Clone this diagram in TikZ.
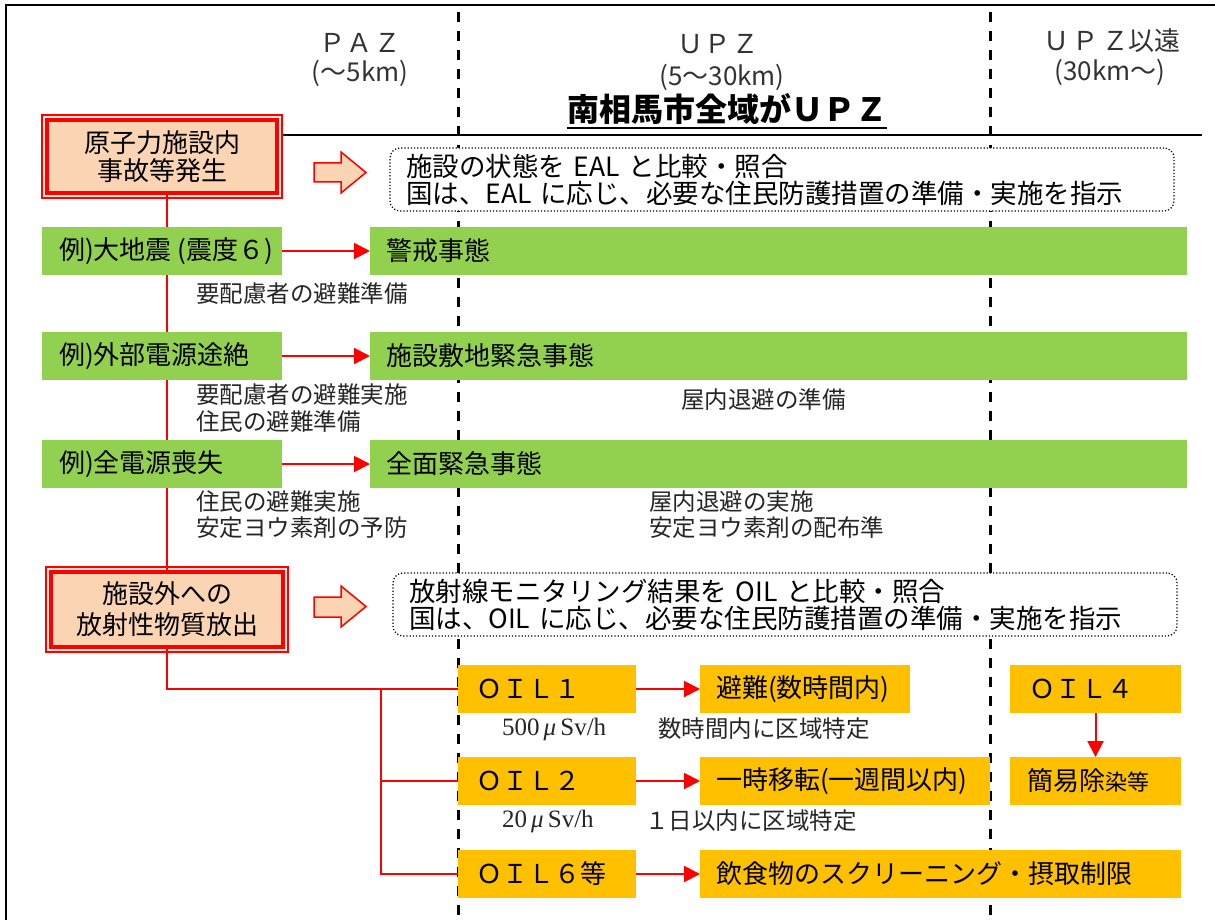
\documentclass[tikz,border=0pt]{standalone}
\usepackage{fontspec}
\setmainfont{Noto Sans CJK JP}
\newfontfamily\tm{Liberation Serif}
\usetikzlibrary{arrows.meta}
\definecolor{peach}{RGB}{251,212,180}
\definecolor{lpeach}{RGB}{253,233,220}
\definecolor{grn}{RGB}{146,208,80}
\definecolor{org}{RGB}{255,192,0}
\pgfdeclarelayer{bg}
\pgfdeclarelayer{paper}
\pgfsetlayers{paper,bg,main}
\newcommand\fsz[1]{\fontsize{#1}{#1}\selectfont}
\newcommand\lbox[3]{\makebox[#1pt][l]{\hspace*{#2pt}#3}}
\begin{document}
\begin{tikzpicture}[x=1pt,y=-1pt,
  every node/.style={inner sep=0pt, outer sep=0pt},
  gbox/.style={fill=grn, minimum height=48pt, anchor=north west, font=\fsz{26}},
  obox/.style={fill=org, minimum height=48pt, anchor=north west, font=\fsz{26}},
  redbox/.style={draw=red, line width=3.5pt, fill=peach, align=center},
  dotbox/.style={draw=black, dotted, line width=1.2pt, rounded corners=10pt, fill=white, anchor=north west, align=left, inner xsep=16pt, minimum height=63pt, font=\fontsize{26.5}{27}\selectfont},
  rline/.style={draw=red, line width=2pt},
  rarrow/.style={rline, -{Triangle[length=16pt,width=16pt]}},
  zone/.style={draw=black, line width=3pt, dash pattern=on 10pt off 9pt},
  lbl/.style={anchor=west, font=\fsz{23.5}, text=black!85},
  hdr/.style={font=\fsz{26}, text=black!80},
  barrow/.style={draw=red, fill=peach, line width=1.5pt, line join=miter}
]
\useasboundingbox (0,0) rectangle (1215,920);
\begin{pgfonlayer}{paper}
\fill[white] (0,0) rectangle (1215,920);
\end{pgfonlayer}

% headers
\node[hdr] (hpaz) at (360,43) {Ｐ\kern2ptＡ\kern2ptＺ};
\node[hdr] (hpazk) at (360,73) {(～5km)};
\node[hdr] (hupz) at (718,44) {Ｕ\kern2ptＰ\kern2ptＺ};
\node[hdr] (hupzk) at (722,77) {(5～30km)};
\node[font=\bfseries\fsz{32}] (city) at (727,109) {南相馬市全域がＵＰＺ};
\node[hdr] (hfar) at (1112,41) {Ｕ\kern4ptＰ\kern4ptＺ以遠};
\node[hdr] (hfark) at (1110,72) {(30km～)};

% red boxes
\node[redbox, minimum width=230pt, minimum height=73pt, font=\fontsize{26}{28}\selectfont] (r1) at (162,156.5) {原子力施設内\\事故等発生};
\node[redbox, minimum width=232pt, minimum height=75pt, font=\fontsize{26}{31}\selectfont] (r2) at (167,609.5) {施設外への\\放射性物質放出};

% dotted boxes
\node[dotbox, minimum width=784pt, text width=752pt] (d1) at (390,148) {施設の状態を EAL と比較・照合\\国は、EAL に応じ、必要な住民防護措置の準備・実施を指示};
\node[dotbox, minimum width=784pt, text width=752pt] (d2) at (393,573) {放射線モニタリング結果を OIL と比較・照合\\国は、OIL に応じ、必要な住民防護措置の準備・実施を指示};

% green boxes
\node[gbox] (g1) at (42,227) {\lbox{240}{17}{例)大地震 (震度６)}};
\node[gbox] (g2) at (42,332) {\lbox{240}{17}{例)外部電源途絶}};
\node[gbox] (g3) at (42,440) {\lbox{240}{17}{例)全電源喪失}};
\node[gbox] (s1) at (370,227) {\lbox{817}{16}{警戒事態}};
\node[gbox] (s2) at (370,332) {\lbox{817}{16}{施設敷地緊急事態}};
\node[gbox] (s3) at (370,440) {\lbox{817}{16}{全面緊急事態}};

% orange boxes
\node[obox] (o1) at (458,665) {\lbox{178}{18}{ＯＩＬ１}};
\node[obox] (o2) at (458,757) {\lbox{178}{18}{ＯＩＬ２}};
\node[obox] (o6) at (458,850) {\lbox{178}{18}{ＯＩＬ６等}};
\node[obox] (a1) at (700,665) {\lbox{210}{16}{避難(数時間内)}};
\node[obox] (a2) at (700,757) {\lbox{290}{16}{一時移転(一週間以内)}};
\node[obox] (a6) at (700,850) {\lbox{481}{16}{飲食物のスクリーニング・摂取制限}};
\node[obox] (o4) at (1010,665) {\lbox{171}{19}{ＯＩＬ４}};
\node[obox] (a4) at (1010,757) {\lbox{171}{17}{簡易除{\fsz{22}染等}}};

% labels
\node[lbl] (t1) at (196,294) {要配慮者の避難準備};
\node[lbl] (t2a) at (196,395) {要配慮者の避難実施};
\node[lbl] (t2b) at (196,422) {住民の避難準備};
\node[lbl] (t3a) at (196,502) {住民の避難実施};
\node[lbl] (t3b) at (196,528) {安定ヨウ素剤の予防};
\node[lbl] (u2) at (681,400) {屋内退避の準備};
\node[lbl] (u3a) at (649,502) {屋内退避の実施};
\node[lbl] (u3b) at (649,528) {安定ヨウ素剤の配布準};
\node[lbl] (v1) at (658,729) {数時間内に区域特定};
\node[lbl] (v2) at (645,821) {１日以内に区域特定};
\node[lbl, font=\tm\fsz{25}] (w1) at (502,729) {500\,\textit{μ}\,Sv/h};
\node[lbl, font=\tm\fsz{25}] (w2) at (502,821) {20\,\textit{μ}\,Sv/h};

% block arrows
\draw[barrow] (314,163) -- (341,163) -- (341,152) -- (366,172.5) -- (341,193) -- (341,182) -- (314,182) -- cycle;
\draw[barrow] (314,597) -- (341,597) -- (341,586) -- (366,606.5) -- (341,627) -- (341,617) -- (314,617) -- cycle;

% red arrows
\draw[rarrow] (g1.east) -- (s1.west);
\draw[rarrow] (g2.east) -- (s2.west);
\draw[rarrow] (g3.east) -- (s3.west);
\draw[rarrow] (o1.east) -- (a1.west);
\draw[rarrow] (o2.east) -- (a2.west);
\draw[rarrow] (o6.east) -- (a6.west);
\draw[rarrow] (o4.south) -- (a4.north);

\begin{pgfonlayer}{bg}
  % frame
  \draw[black, line width=2pt] (6,920) -- (6,5) -- (1215,5);
  % zone lines
  \coordinate (zt1) at (458,12);
  \coordinate (zb1) at (458,920);
  \coordinate (zt2) at (990,12);
  \coordinate (zb2) at (990,920);
  \draw[zone] (zt1) -- (zb1);
  \draw[zone] (zt2) -- (zb2);
  % header rule
  \coordinate (hr) at (1202,135);
  \draw[black, line width=2.5pt] (r1.east |- hr) -- (hr);
  \draw[black, line width=2pt] ([yshift=-3pt]city.south west) -- ([yshift=-3pt]city.south east);
  % outer frames of red boxes
  \draw[red, line width=1.5pt, fill=lpeach] ([xshift=-5pt,yshift=5pt]r1.north west) rectangle ([xshift=5pt,yshift=-5pt]r1.south east);
  \draw[red, line width=1.5pt, fill=lpeach] ([xshift=-5pt,yshift=5pt]r2.north west) rectangle ([xshift=5pt,yshift=-5pt]r2.south east);
  % red trunk
  \draw[rline] (r2.north) -- (r2.north |- r1.south);
  \draw[rline] (r2.south) |- (o1.west);
  \coordinate (br) at (381,689);
  \draw[rline] (br) |- (o6.west);
  \draw[rline] (br |- o2.west) -- (o2.west);
\end{pgfonlayer}
\end{tikzpicture}
\end{document}
